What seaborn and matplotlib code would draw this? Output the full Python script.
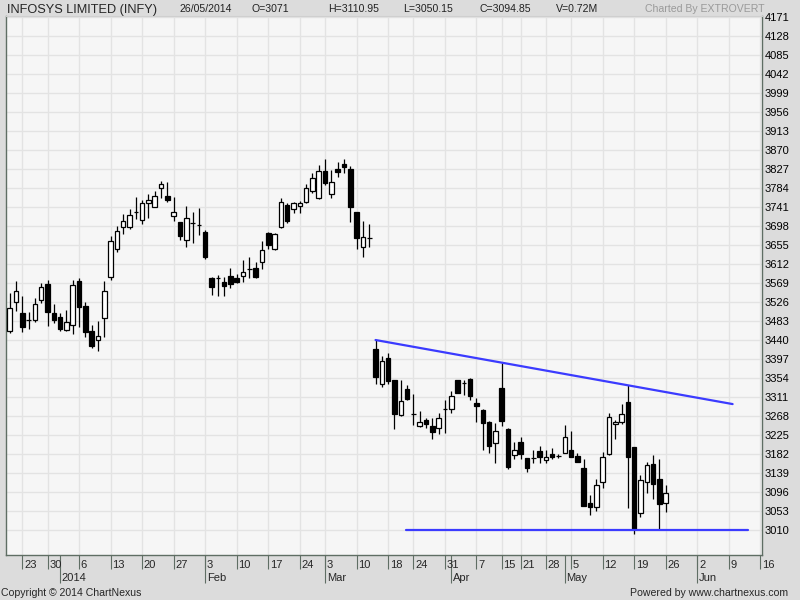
import numpy as np
import pandas as pd
import matplotlib
matplotlib.use("Agg")
import matplotlib.pyplot as plt
import seaborn as sns

# trading-day index, 0 = 23 Dec 2013 (holidays skipped)
day = np.arange(-2, 103)

opens = [3461, 3525, 3500, 3485, 3485, 3530, 3566, 3500, 3491, 3463,
         3474, 3574, 3518, 3460, 3440, 3489, 3582, 3645, 3695, 3696,
         3729, 3712, 3749, 3740, 3783, 3766, 3721, 3706, 3666, 3704,
         3700, 3684, 3580, 3580, 3571, 3586, 3580, 3585, 3601, 3604,
         3616, 3683, 3645, 3695, 3745, 3736, 3744, 3753, 3778, 3761,
         3823, 3770, 3827, 3838, 3827, 3729, 3651, 3671, 3420, 3340,
         3399, 3349, 3270, 3328, 3272, 3246, 3259, 3246, 3240, 3284,
         3283, 3349, 3342, 3352, 3297, 3282, 3255, 3208, 3331, 3239,
         3179, 3209, 3172, 3172, 3189, 3168, 3181, 3178, 3185, 3190,
         3178, 3150, 3070, 3063, 3118, 3181, 3249, 3254, 3299, 3197,
         3048, 3118, 3159, 3125, 3071]
highs = [3546, 3574, 3540, 3504, 3536, 3570, 3576, 3521, 3500, 3508,
         3576, 3580, 3525, 3474, 3483, 3574, 3675, 3697, 3725, 3736,
         3763, 3758, 3770, 3778, 3800, 3797, 3763, 3708, 3743, 3729,
         3738, 3689, 3582, 3587, 3583, 3602, 3590, 3621, 3627, 3617,
         3665, 3685, 3682, 3761, 3749, 3753, 3755, 3793, 3817, 3836,
         3849, 3825, 3843, 3849, 3834, 3730, 3709, 3702, 3440, 3404,
         3411, 3350, 3350, 3338, 3318, 3279, 3263, 3263, 3274, 3304,
         3325, 3350, 3350, 3355, 3308, 3283, 3256, 3253, 3387, 3240,
         3210, 3220, 3173, 3190, 3200, 3190, 3195, 3182, 3248, 3234,
         3185, 3170, 3089, 3125, 3187, 3274, 3259, 3295, 3338, 3197,
         3135, 3165, 3179, 3171, 3110.95]
lows = [3455, 3506, 3459, 3466, 3481, 3523, 3472, 3479, 3461, 3461,
        3453, 3469, 3446, 3421, 3416, 3447, 3576, 3640, 3679, 3692,
        3714, 3702, 3717, 3740, 3761, 3753, 3710, 3666, 3651, 3659,
        3678, 3623, 3542, 3540, 3540, 3557, 3568, 3572, 3580, 3580,
        3601, 3645, 3644, 3694, 3705, 3728, 3728, 3751, 3772, 3760,
        3791, 3761, 3808, 3817, 3708, 3645, 3628, 3651, 3340, 3334,
        3340, 3238, 3269, 3305, 3248, 3244, 3240, 3215, 3227, 3229,
        3274, 3320, 3316, 3304, 3255, 3190, 3184, 3162, 3246, 3147,
        3170, 3170, 3142, 3161, 3162, 3161, 3171, 3172, 3184, 3175,
        3164, 3064, 3044, 3053, 3104, 3180, 3216, 3250, 3059, 3000,
        3040, 3093, 3080, 3012, 3050.15]
closes = [3512, 3551, 3469, 3485, 3521, 3561, 3503, 3485, 3466, 3480,
          3564, 3515, 3457, 3427, 3450, 3550, 3664, 3686, 3710, 3724,
          3729, 3749, 3758, 3766, 3792, 3758, 3730, 3675, 3717, 3704,
          3700, 3628, 3561, 3580, 3563, 3566, 3572, 3595, 3601, 3583,
          3644, 3655, 3680, 3752, 3710, 3749, 3749, 3783, 3806, 3823,
          3795, 3798, 3821, 3831, 3740, 3670, 3674, 3671, 3357, 3393,
          3348, 3272, 3302, 3306, 3272, 3254, 3249, 3231, 3263, 3284,
          3313, 3321, 3342, 3314, 3291, 3253, 3199, 3234, 3257, 3153,
          3191, 3181, 3150, 3172, 3175, 3176, 3176, 3178, 3220, 3176,
          3165, 3065, 3063, 3111, 3175, 3265, 3254, 3273, 3176, 3012,
          3123, 3156, 3113, 3068, 3094.85]

# weekly axis labels and month markers (trading-day index)
week_pos = [0, 4, 9, 14, 19, 24, 29, 34, 39, 44, 48, 53, 58, 62, 67, 72,
            76, 79, 83, 87, 92, 97, 102, 107, 112, 117]
week_lbl = ["23", "30", "6", "13", "20", "27", "3", "10", "17", "24", "3",
            "10", "18", "24", "31", "7", "15", "21", "28", "5", "12", "19",
            "26", "2", "9", "16"]
month_pos = [6, 29, 48, 68, 86, 107]
month_lbl = ["2014", "Feb", "Mar", "Apr", "May", "Jun"]

price_ticks = [3010, 3053, 3096, 3139, 3182, 3225, 3268, 3311, 3354, 3397,
               3440, 3483, 3526, 3569, 3612, 3655, 3698, 3741, 3784, 3827,
               3870, 3913, 3956, 3999, 4042, 4085, 4128, 4171]

# hand-drawn trendlines
upper_x = [56, 112.6]
upper_y = [3440, 3295]
lower_x = [60.8, 115.0]
lower_y = [3011, 3011]

outer_bg = "#dcdcdc"
plot_bg = "#f6f6f6"
grid_c = "#e3e3e3"
axis_c = "#5f6e64"
line_c = "#3b3bff"

sns.set_style("white", rc={"axes.facecolor": plot_bg, "figure.facecolor": outer_bg})
plt.rcParams["font.family"] = ["Liberation Sans", "DejaVu Sans"]

df = pd.DataFrame({"day": day, "open": opens, "high": highs,
                   "low": lows, "close": closes})
df["up"] = df["close"] >= df["open"]
df["bottom"] = df[["open", "close"]].min(axis=1)
df["height"] = (df["close"] - df["open"]).abs()

fig = plt.figure(figsize=(8, 6), dpi=100)
ax = fig.add_axes([0.0075, 0.075, 0.945, 0.8983])

# grid
ax.set_yticks(price_ticks)
ax.set_xticks(week_pos)
ax.set_xticks(month_pos, minor=True)
ax.xaxis.remove_overlapping_locs = False
ax.grid(True, which="major", color=grid_c, linewidth=1.0)
ax.set_axisbelow(True)

# candles
ax.vlines(df["day"], df["low"], df["high"], color="black", linewidth=0.9, zorder=2)
ax.bar(df["day"], df["height"], bottom=df["bottom"], width=0.72,
       color=np.where(df["up"], "white", "black"), edgecolor="black",
       linewidth=0.9, zorder=3)

# trendlines
sns.lineplot(x=upper_x, y=upper_y, ax=ax, color=line_c, linewidth=1.6, zorder=4)
sns.lineplot(x=lower_x, y=lower_y, ax=ax, color=line_c, linewidth=1.6, zorder=4)

ax.set_xlim(-2.58, 117.26)
ax.set_ylim(2953.4, 4173.3)

# axes styling
ax.yaxis.tick_right()
ax.tick_params(axis="y", length=0, pad=2, labelsize=8, colors="black")
ax.set_yticklabels([str(v) for v in price_ticks])
ax.tick_params(axis="x", which="major", bottom=True, length=10, width=0.8,
               color=axis_c, direction="out", labelbottom=False)
ax.tick_params(axis="x", which="minor", bottom=True, length=20, width=0.8,
               color=axis_c, direction="out", labelbottom=False)
for side in ["left", "bottom", "right"]:
    ax.spines[side].set_visible(True)
    ax.spines[side].set_color(axis_c)
    ax.spines[side].set_linewidth(1.0)
ax.spines["top"].set_color("#cfcfcf")
ax.spines["top"].set_linewidth(0.8)

for pos, lbl in zip(week_pos, week_lbl):
    ax.annotate(lbl, xy=(pos, 0), xycoords=("data", "axes fraction"),
                xytext=(1.2, -7.2), textcoords="offset points",
                ha="left", va="center", fontsize=8, annotation_clip=False)
for pos, lbl in zip(month_pos, month_lbl):
    ax.annotate(lbl, xy=(pos, 0), xycoords=("data", "axes fraction"),
                xytext=(1.2, -16.6), textcoords="offset points",
                ha="left", va="center", fontsize=8, annotation_clip=False)

# header
hy = 1 - 9.5 / 600
fig.text(7 / 800, hy, "INFOSYS LIMITED (INFY)", fontsize=9.2, va="center", ha="left")
header = [(179, "26/05/2014"), (252, "O=3071"), (328, "H=3110.95"),
          (403, "L=3050.15"), (480, "C=3094.85"), (556, "V=0.72M")]
for px, txt in header:
    fig.text(px / 800, hy, txt, fontsize=7.6, va="center", ha="left", color="#222222")
fig.text(645 / 800, hy, "Charted By EXTROVERT", fontsize=7.6, va="center",
         ha="left", color="#9a9a9a")

# footer
fig.text(1 / 800, 1 - 593 / 600, "Copyright \u00a9 2014 ChartNexus", fontsize=7.6,
         va="center", ha="left")
fig.text(788 / 800, 1 - 593 / 600, "Powered by www.chartnexus.com", fontsize=7.6,
         va="center", ha="right")

fig.savefig("out.png", dpi=100, facecolor=outer_bg)
